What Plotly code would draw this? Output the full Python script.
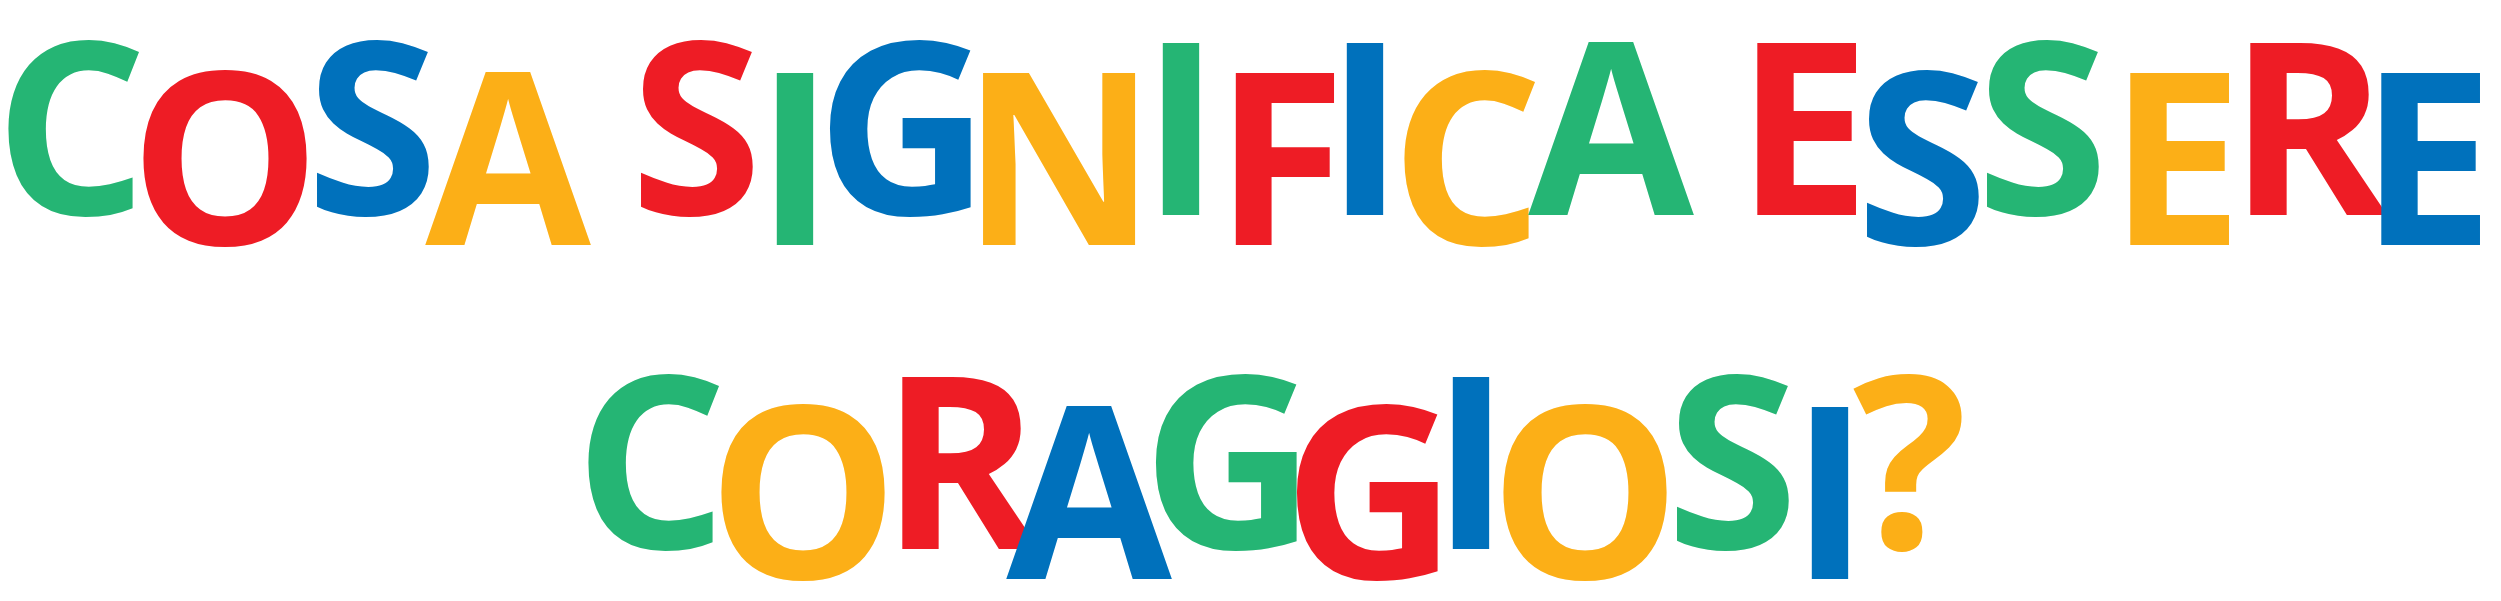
import plotly.graph_objects as go

# ---- data ----
line1_letters = list("COSASIGNIFICAESSERE")
line1_colors = ["green", "red", "blue", "yellow",
                "red", "green", "blue", "yellow", "green", "red", "blue", "yellow", "green",
                "red", "blue", "green", "yellow", "red", "blue"]
line1_raised = [1, 0, 1, 0,
                1, 0, 1, 0, 1, 0, 1, 0, 1,
                1, 0, 1, 0, 1, 0]
line1_x = [63, 217, 364, 500,
           688, 787, 895, 1051, 1173, 1272, 1357, 1459, 1603,
           1795, 1914, 2034, 2168, 2300, 2419]

line2_letters = list("CORAGGIOSI?")
line2_colors = ["green", "yellow", "red", "blue", "green", "red", "blue", "yellow", "green", "blue", "yellow"]
line2_raised = [1, 0, 1, 0, 1, 0, 1, 0, 1, 0, 1]
line2_x = [643, 795, 952, 1081, 1221, 1362, 1463, 1577, 1724, 1822, 1902]

# baselines (pixels from top) of the lowered letters of each line; raised letters sit higher by `lift`
line_baselines = [237, 571]
lift = 30

# ---- styling ----
palette = {"green": "#25B574", "red": "#EE1C25", "blue": "#0071BC", "yellow": "#FCAF17"}
FONT_SIZE = 240
TEXT_SHIFT = 0.25 * FONT_SIZE  # middle-anchored text: baseline sits this far below the point

fig = go.Figure()
for letters, colors, raised, xs, base in [
    (line1_letters, line1_colors, line1_raised, line1_x, line_baselines[0]),
    (line2_letters, line2_colors, line2_raised, line2_x, line_baselines[1]),
]:
    ys = [base - lift * r - TEXT_SHIFT for r in raised]
    fig.add_trace(go.Scatter(
        x=xs, y=ys, mode="text", text=letters,
        textposition="middle center",
        textfont=dict(family="Open Sans", size=FONT_SIZE, weight="bold",
                      color=[palette[c] for c in colors]),
        hoverinfo="skip", showlegend=False,
    ))

fig.update_layout(
    width=2501, height=601,
    margin=dict(l=0, r=0, t=0, b=0),
    paper_bgcolor="white", plot_bgcolor="white",
    xaxis=dict(range=[0, 2501], visible=False, fixedrange=True),
    yaxis=dict(range=[601, 0], visible=False, fixedrange=True),
)
fig.write_html("out.html")
